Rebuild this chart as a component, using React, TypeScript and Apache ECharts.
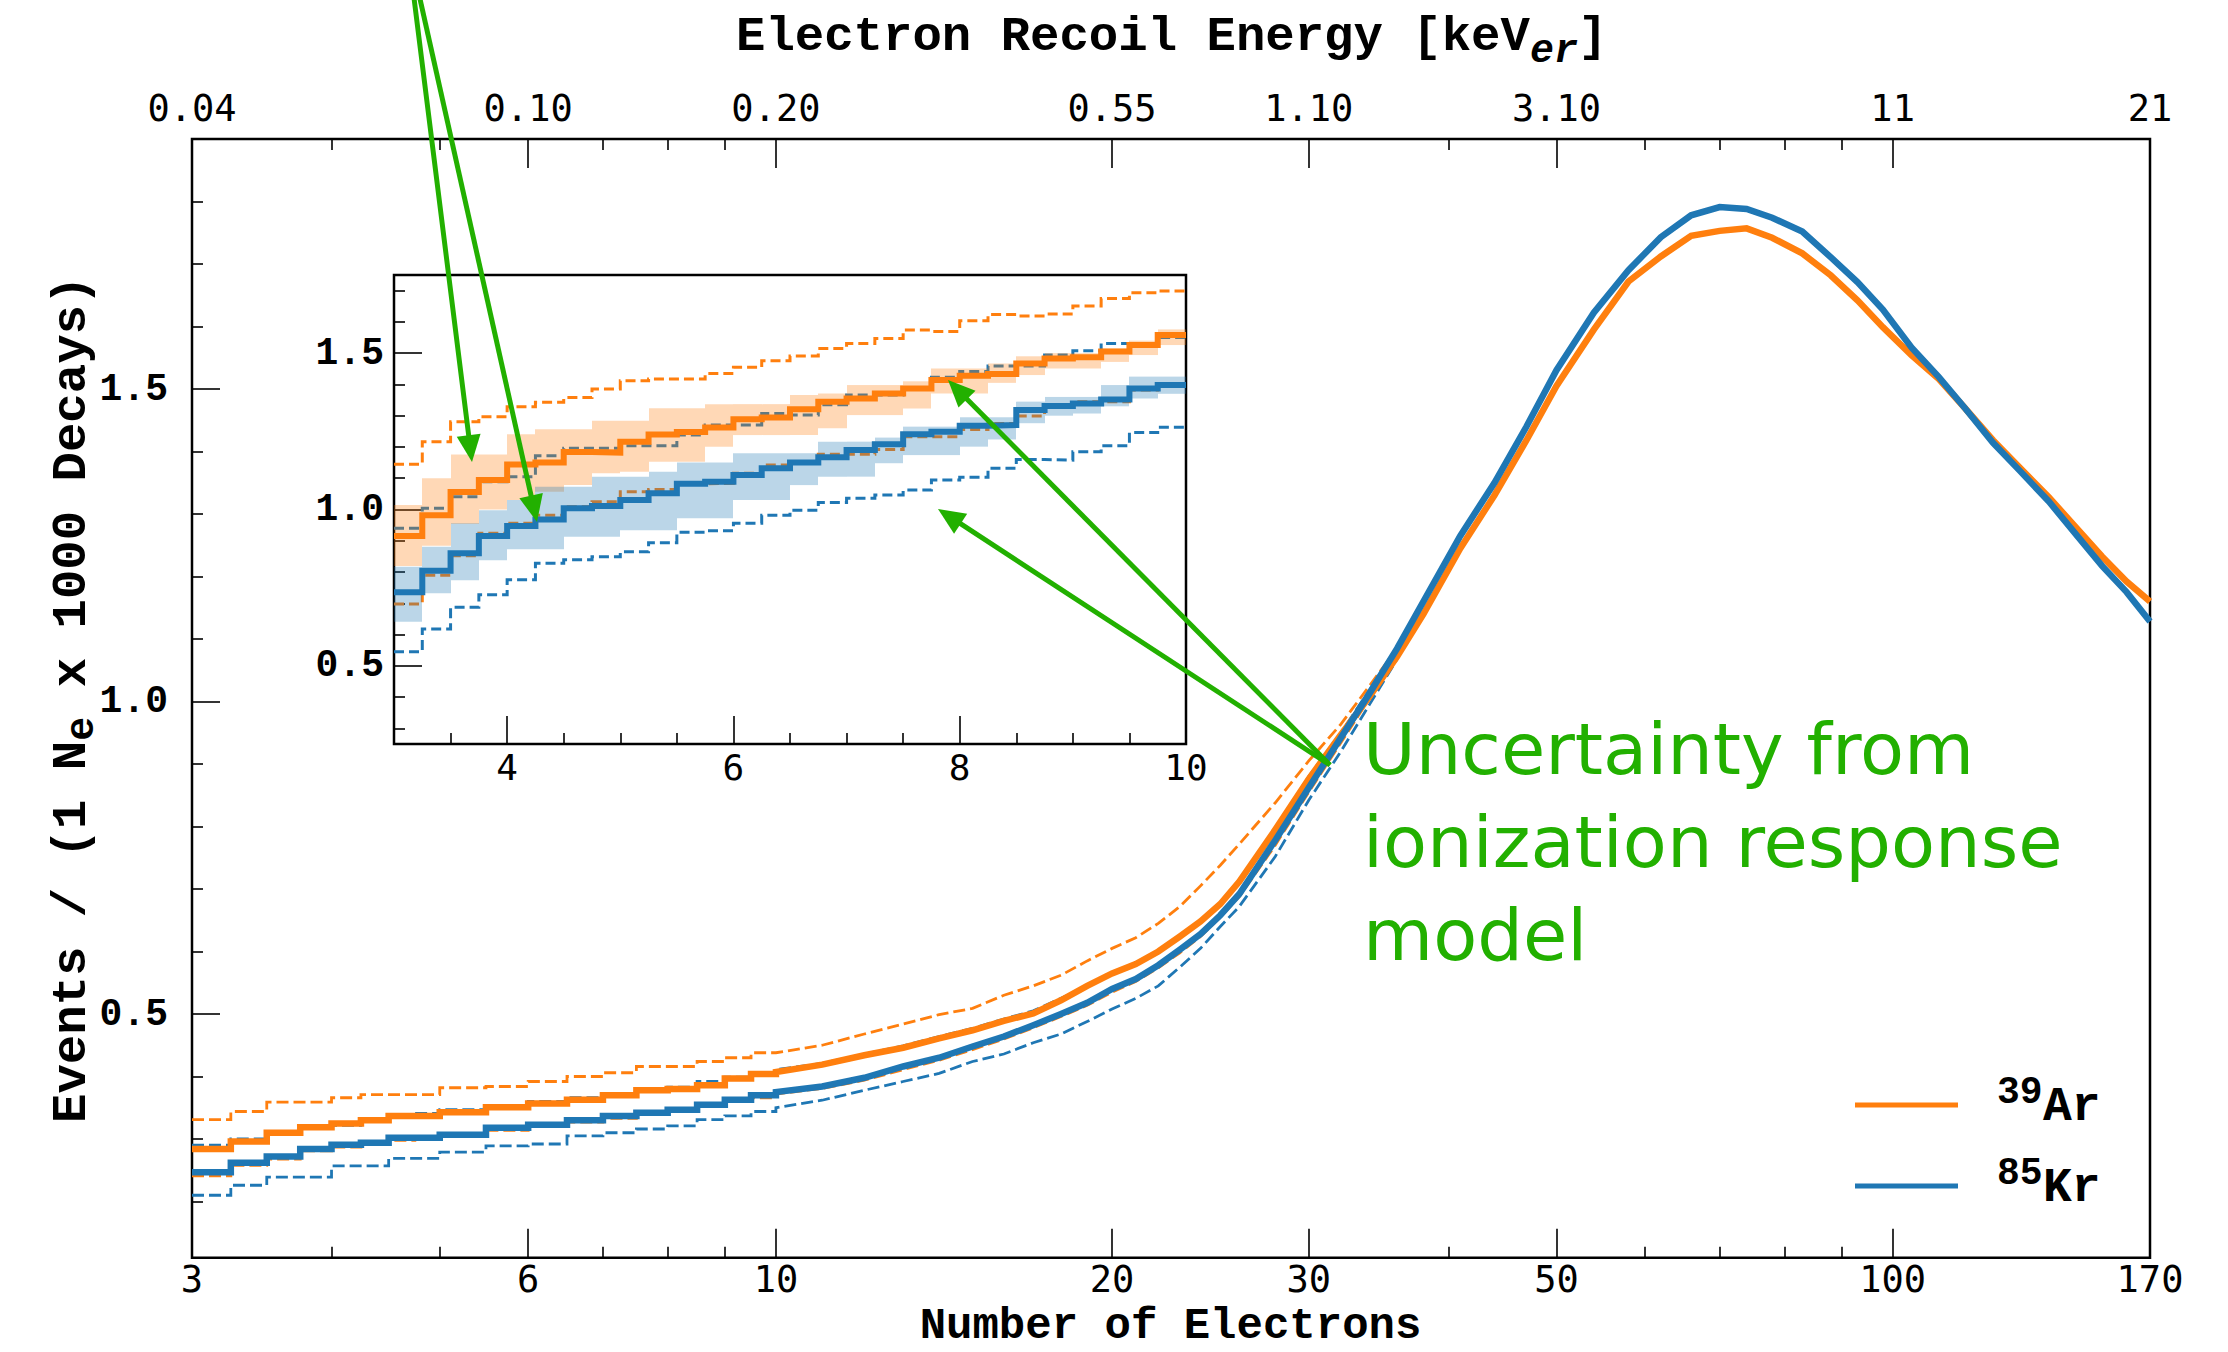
import React, { useEffect, useRef } from "react";
import * as echarts from "echarts";

const W = 2228;
const H = 1352;

// ================= Axis ticks =================
const mainMajorNe = [3, 6, 10, 20, 30, 50, 100, 170];
const mainMinorNe = [4, 5, 7, 8, 9, 40, 60, 70, 80, 90];
const bottomTickLabels = ["3", "6", "10", "20", "30", "50", "100", "170"];
const topTickLabels = ["0.04", "0.10", "0.20", "0.55", "1.10", "3.10", "11", "21"];
const mainYMajor = [0.5, 1.0, 1.5];
const mainYMinor = [0.2, 0.3, 0.4, 0.6, 0.7, 0.8, 0.9, 1.1, 1.2, 1.3, 1.4, 1.6, 1.7, 1.8];
const insetXMajor = [4, 6, 8, 10];
const insetXMinor = [3.5, 4.5, 5, 5.5, 6.5, 7, 7.5, 8.5, 9, 9.5];
const insetYMajor = [0.5, 1.0, 1.5];
const insetYMinor = [0.3, 0.4, 0.6, 0.7, 0.8, 0.9, 1.1, 1.2, 1.3, 1.4, 1.6, 1.7];

// ================= Main plot data =================
// low-Ne histogram bins (bin edges, number of electrons)
const mainBinEdges = [3, 3.25, 3.5, 3.75, 4, 4.25, 4.5, 4.75, 5, 5.5, 6, 6.5, 7, 7.5, 8, 8.5, 9, 9.5, 10];
const ar39MainSteps = [0.284, 0.296, 0.310, 0.319, 0.325, 0.330, 0.337, 0.337, 0.343, 0.351, 0.357, 0.363, 0.370, 0.378, 0.380, 0.386, 0.397, 0.404];
const kr85MainSteps = [0.247, 0.262, 0.272, 0.284, 0.291, 0.294, 0.302, 0.302, 0.307, 0.318, 0.323, 0.330, 0.337, 0.342, 0.347, 0.355, 0.363, 0.370];
const ar39UpMainSteps = [0.331, 0.344, 0.359, 0.359, 0.366, 0.371, 0.371, 0.371, 0.382, 0.384, 0.392, 0.400, 0.406, 0.416, 0.416, 0.424, 0.430, 0.438];
const ar39LoMainSteps = [0.241, 0.258, 0.268, 0.281, 0.287, 0.291, 0.298, 0.300, 0.304, 0.314, 0.320, 0.327, 0.333, 0.340, 0.344, 0.352, 0.360, 0.366];
const kr85UpMainSteps = [0.290, 0.300, 0.311, 0.320, 0.322, 0.333, 0.338, 0.341, 0.347, 0.353, 0.360, 0.366, 0.372, 0.378, 0.383, 0.392, 0.399, 0.406];
const kr85LoMainSteps = [0.210, 0.226, 0.239, 0.239, 0.257, 0.257, 0.269, 0.269, 0.279, 0.289, 0.292, 0.305, 0.310, 0.316, 0.321, 0.331, 0.337, 0.344];

// higher-Ne samples
const mainNe = [10, 11, 12, 13, 14, 15, 16, 17, 18, 19, 20, 21, 22, 23, 24, 25, 26, 28, 30, 32, 34, 36, 38, 41, 44, 47, 50, 54, 58, 62, 66, 70, 74, 78, 83, 88, 93, 98, 104, 110, 116, 123, 130, 138, 146, 154, 162, 170];
const ar39Main = [0.407, 0.419, 0.434, 0.446, 0.461, 0.474, 0.489, 0.501, 0.522, 0.545, 0.565, 0.580, 0.600, 0.624, 0.648, 0.676, 0.712, 0.795, 0.876, 0.945, 1.008, 1.072, 1.140, 1.245, 1.330, 1.418, 1.505, 1.595, 1.672, 1.712, 1.745, 1.753, 1.757, 1.742, 1.717, 1.682, 1.642, 1.599, 1.554, 1.516, 1.470, 1.418, 1.374, 1.327, 1.278, 1.232, 1.192, 1.160];
const kr85Main = [0.375, 0.384, 0.398, 0.416, 0.430, 0.448, 0.464, 0.482, 0.500, 0.518, 0.540, 0.556, 0.578, 0.603, 0.628, 0.658, 0.692, 0.778, 0.862, 0.940, 1.013, 1.085, 1.160, 1.265, 1.350, 1.440, 1.530, 1.622, 1.690, 1.743, 1.778, 1.791, 1.788, 1.774, 1.752, 1.711, 1.671, 1.627, 1.566, 1.519, 1.470, 1.414, 1.369, 1.320, 1.267, 1.217, 1.175, 1.128];
const mainDashNe = [10, 11, 12, 13, 14, 15, 16, 17, 18, 19, 20, 21, 22, 23, 24, 25, 26, 28, 30, 32, 34, 36];
const ar39UpMain = [0.438, 0.450, 0.468, 0.484, 0.499, 0.509, 0.530, 0.545, 0.562, 0.585, 0.605, 0.622, 0.645, 0.672, 0.705, 0.738, 0.772, 0.838, 0.905, 0.962, 1.025, 1.085];
const ar39LoMain = [0.372, 0.381, 0.394, 0.411, 0.426, 0.443, 0.460, 0.478, 0.496, 0.514, 0.535, 0.552, 0.574, 0.598, 0.624, 0.655, 0.688, 0.770, 0.855, 0.932, 1.005, 1.075];
const kr85UpMain = [0.411, 0.421, 0.436, 0.449, 0.464, 0.477, 0.492, 0.505, 0.525, 0.544, 0.566, 0.582, 0.600, 0.625, 0.650, 0.678, 0.712, 0.795, 0.880, 0.948, 1.018, 1.088];
const kr85LoMain = [0.350, 0.362, 0.378, 0.392, 0.405, 0.424, 0.436, 0.454, 0.468, 0.488, 0.508, 0.525, 0.545, 0.575, 0.605, 0.640, 0.672, 0.752, 0.842, 0.918, 0.995, 1.068];

// ================= Inset data (bins of 0.25 electrons) =================
const insetBinEdges = [3, 3.25, 3.5, 3.75, 4, 4.25, 4.5, 4.75, 5, 5.25, 5.5, 5.75, 6, 6.25, 6.5, 6.75, 7, 7.25, 7.5, 7.75, 8, 8.25, 8.5, 8.75, 9, 9.25, 9.5, 9.75, 10];
const ar39Inset = [0.915, 0.982, 1.056, 1.094, 1.144, 1.150, 1.184, 1.182, 1.217, 1.240, 1.248, 1.262, 1.289, 1.294, 1.321, 1.345, 1.355, 1.371, 1.387, 1.414, 1.428, 1.433, 1.467, 1.483, 1.487, 1.505, 1.526, 1.558];
const ar39BandHi = [1.014, 1.100, 1.176, 1.176, 1.241, 1.257, 1.257, 1.284, 1.284, 1.324, 1.324, 1.337, 1.337, 1.337, 1.366, 1.371, 1.398, 1.398, 1.410, 1.451, 1.451, 1.467, 1.490, 1.500, 1.500, 1.515, 1.540, 1.576];
const ar39BandLo = [0.819, 0.884, 0.954, 1.000, 1.030, 1.057, 1.078, 1.116, 1.121, 1.153, 1.153, 1.201, 1.238, 1.238, 1.238, 1.260, 1.302, 1.302, 1.323, 1.371, 1.371, 1.405, 1.430, 1.451, 1.451, 1.472, 1.494, 1.526];
const kr85Inset = [0.735, 0.804, 0.860, 0.915, 0.947, 0.968, 1.004, 1.011, 1.030, 1.052, 1.082, 1.089, 1.110, 1.132, 1.150, 1.167, 1.190, 1.209, 1.241, 1.249, 1.268, 1.270, 1.318, 1.331, 1.339, 1.352, 1.387, 1.398];
const kr85BandHi = [0.817, 0.881, 0.956, 0.998, 1.030, 1.073, 1.073, 1.105, 1.105, 1.121, 1.150, 1.150, 1.180, 1.180, 1.180, 1.217, 1.217, 1.230, 1.265, 1.265, 1.295, 1.295, 1.345, 1.360, 1.360, 1.398, 1.425, 1.425];
const kr85BandLo = [0.641, 0.732, 0.774, 0.838, 0.873, 0.873, 0.913, 0.913, 0.934, 0.934, 0.972, 0.972, 1.030, 1.030, 1.078, 1.105, 1.105, 1.148, 1.174, 1.174, 1.201, 1.224, 1.276, 1.300, 1.307, 1.330, 1.355, 1.370];
const ar39UpInset = [1.145, 1.217, 1.281, 1.297, 1.329, 1.343, 1.358, 1.385, 1.412, 1.417, 1.417, 1.435, 1.455, 1.476, 1.491, 1.515, 1.531, 1.547, 1.574, 1.569, 1.604, 1.624, 1.619, 1.625, 1.651, 1.675, 1.693, 1.699];
const ar39LoInset = [0.698, 0.790, 0.852, 0.924, 0.956, 0.982, 1.009, 1.025, 1.057, 1.064, 1.082, 1.084, 1.116, 1.142, 1.148, 1.177, 1.177, 1.192, 1.233, 1.233, 1.256, 1.275, 1.299, 1.329, 1.345, 1.345, 1.382, 1.393];
const kr85UpInset = [0.940, 1.004, 1.041, 1.089, 1.105, 1.172, 1.196, 1.196, 1.204, 1.204, 1.238, 1.270, 1.270, 1.307, 1.302, 1.335, 1.366, 1.366, 1.385, 1.423, 1.441, 1.459, 1.459, 1.494, 1.508, 1.531, 1.531, 1.550];
const kr85LoInset = [0.545, 0.618, 0.687, 0.727, 0.775, 0.828, 0.839, 0.849, 0.865, 0.894, 0.927, 0.932, 0.956, 0.982, 0.998, 1.022, 1.036, 1.046, 1.062, 1.094, 1.103, 1.132, 1.160, 1.158, 1.185, 1.204, 1.246, 1.263];

// ================= Styling =================
const ORANGE = "#ff7f0e";
const BLUE = "#1f77b4";
const GREEN = "#22b000";
const MONO = "Liberation Mono";
const TICKFONT = "DejaVu Sans Mono";

const LOG = (n: number) => Math.log10(n);

function mainCurve(steps: number[], ne: number[], vals: number[]) {
  const pts: number[][] = [];
  steps.forEach((v, i) => {
    pts.push([LOG(mainBinEdges[i]), v]);
    pts.push([LOG(mainBinEdges[i + 1]), v]);
  });
  ne.forEach((n, i) => pts.push([LOG(n), vals[i]]));
  return pts;
}

function stepCurve(vals: number[]) {
  const pts: number[][] = [];
  vals.forEach((v, i) => {
    pts.push([insetBinEdges[i], v]);
    pts.push([insetBinEdges[i + 1], v]);
  });
  return pts;
}

function nearestLabel(values: number[], labels: string[]) {
  return (v: number) => {
    let best = 0;
    values.forEach((x, i) => {
      if (Math.abs(x - v) < Math.abs(values[best] - v)) best = i;
    });
    return labels[best];
  };
}

const tickLine = { color: "#000", width: 1.6 };

function axis(gridIndex: number, position: string, min: number, max: number, ticks: number[], len: number, label: any) {
  return {
    type: "value",
    gridIndex,
    position,
    min,
    max,
    axisLine: { show: false },
    splitLine: { show: false },
    axisTick: { show: true, inside: true, length: len, customValues: ticks, lineStyle: tickLine },
    axisLabel: label
      ? { show: true, customValues: ticks, color: "#000", ...label }
      : { show: false },
  };
}

function line(data: number[][], color: string, width: number, dash: number[] | null, xi: number, yi: number, z: number) {
  return {
    type: "line",
    data,
    xAxisIndex: xi,
    yAxisIndex: yi,
    showSymbol: false,
    symbol: "none",
    silent: true,
    z,
    lineStyle: { color, width, type: dash ? dash : "solid", cap: "butt", join: "miter" },
  };
}

function band(lo: number[], hi: number[], color: string, z: number) {
  return {
    type: "custom",
    xAxisIndex: 4,
    yAxisIndex: 2,
    z,
    silent: true,
    data: lo.map((l, i) => [insetBinEdges[i], insetBinEdges[i + 1], l, hi[i]]),
    encode: { x: [0, 1], y: [2, 3] },
    renderItem: (params: any, api: any) => {
      const a = api.coord([api.value(0), api.value(3)]);
      const b = api.coord([api.value(1), api.value(2)]);
      const x0 = Math.round(a[0]);
      const x1 = Math.round(b[0]);
      return {
        type: "rect",
        shape: { x: x0, y: a[1], width: x1 - x0, height: b[1] - a[1] },
        style: { fill: color },
      };
    },
  };
}

function arrow(x1: number, y1: number, x2: number, y2: number) {
  const dx = x2 - x1;
  const dy = y2 - y1;
  const len = Math.sqrt(dx * dx + dy * dy);
  const ux = dx / len;
  const uy = dy / len;
  const hl = 27;
  const hw = 12;
  const bx = x2 - ux * hl;
  const by = y2 - uy * hl;
  return [
    { type: "line", z: 100, silent: true, shape: { x1, y1, x2: bx + ux * 2, y2: by + uy * 2 }, style: { stroke: GREEN, lineWidth: 5 } },
    {
      type: "polygon",
      z: 100,
      silent: true,
      shape: { points: [[x2, y2], [bx - uy * hw, by + ux * hw], [bx + uy * hw, by - ux * hw]] },
      style: { fill: GREEN },
    },
  ];
}

function text(t: string, x: number, y: number, font: string, fill = "#000", rotation = 0) {
  return {
    type: "text",
    x,
    y,
    rotation,
    z: 100,
    silent: true,
    style: { text: t, font, fill, align: "left", verticalAlign: "middle", textAlign: "left", textVerticalAlign: "middle" },
  };
}

function buildOption() {
  const majorLog = mainMajorNe.map(LOG);
  const minorLog = mainMinorNe.map(LOG);
  const xLabel = { fontFamily: TICKFONT, fontSize: 37 };
  const yLabel = { fontFamily: MONO, fontWeight: "bold", fontSize: 38 };

  const xAxis = [
    axis(0, "bottom", LOG(3), LOG(170), majorLog, 29, { ...xLabel, margin: 3, formatter: nearestLabel(majorLog, bottomTickLabels) }),
    axis(0, "bottom", LOG(3), LOG(170), minorLog, 11, null),
    axis(0, "top", LOG(3), LOG(170), majorLog, 29, { ...xLabel, margin: 12, formatter: nearestLabel(majorLog, topTickLabels) }),
    axis(0, "top", LOG(3), LOG(170), minorLog, 11, null),
    axis(1, "bottom", 3, 10, insetXMajor, 28, { ...xLabel, fontSize: 36, margin: 5, formatter: (v: number) => String(Math.round(v)) }),
    axis(1, "bottom", 3, 10, insetXMinor, 11, null),
  ];
  const yAxis = [
    axis(0, "left", 0.11, 1.9, mainYMajor, 28, { ...yLabel, margin: 24, formatter: (v: number) => v.toFixed(1) }),
    axis(0, "left", 0.11, 1.9, mainYMinor, 11, null),
    axis(1, "left", 0.25, 1.75, insetYMajor, 28, { ...yLabel, margin: 10, formatter: (v: number) => v.toFixed(1) }),
    axis(1, "left", 0.25, 1.75, insetYMinor, 11, null),
  ];

  const MD = [12, 5];
  const ID = [10, 5];
  const series: any[] = [
    // main plot
    line(mainCurve(ar39UpMainSteps, mainDashNe, ar39UpMain), ORANGE, 2.8, MD, 0, 0, 3),
    line(mainCurve(ar39LoMainSteps, mainDashNe, ar39LoMain), ORANGE, 2.8, MD, 0, 0, 3),
    line(mainCurve(kr85UpMainSteps, mainDashNe, kr85UpMain), BLUE, 2.8, MD, 0, 0, 3),
    line(mainCurve(kr85LoMainSteps, mainDashNe, kr85LoMain), BLUE, 2.8, MD, 0, 0, 3),
    line(mainCurve(ar39MainSteps, mainNe, ar39Main), ORANGE, 6.5, null, 0, 0, 5),
    line(mainCurve(kr85MainSteps, mainNe, kr85Main), BLUE, 6.5, null, 0, 0, 6),
    // inset
    line(stepCurve(ar39UpInset), ORANGE, 3, ID, 4, 2, 3),
    line(stepCurve(ar39LoInset), ORANGE, 3, ID, 4, 2, 3),
    line(stepCurve(kr85UpInset), BLUE, 3, ID, 4, 2, 3),
    line(stepCurve(kr85LoInset), BLUE, 3, ID, 4, 2, 3),
    band(ar39BandLo, ar39BandHi, "rgba(255,127,14,0.3)", 4),
    band(kr85BandLo, kr85BandHi, "rgba(31,119,180,0.3)", 4),
    line(stepCurve(ar39Inset), ORANGE, 6, null, 4, 2, 5),
    line(stepCurve(kr85Inset), BLUE, 6, null, 4, 2, 5),
  ];

  const fs = 49;
  const cw = 0.6001;
  const subFs = 40;
  const titleFont = `bold ${fs}px "${MONO}"`;
  const subFont = `italic bold ${subFs}px "${MONO}"`;
  const subUpFont = `bold ${subFs}px "${MONO}"`;
  const topStart = 736;
  const topMain = "Electron Recoil Energy [keV";
  const erX = topStart + topMain.length * fs * cw;
  const brX = erX + 2 * subFs * cw;

  const yStart = 1123;
  const yPart1 = "Events / (1 N";
  const ePos = yStart - yPart1.length * fs * cw;
  const yPart3Pos = ePos - subFs * cw;

  const xTitle = "Number of Electrons";
  const xTitleFs = 44;
  const xTitleX = 1170.5 - (xTitle.length * xTitleFs * cw) / 2;

  const graphic: any[] = [
    // titles
    text(topMain, topStart, 37, titleFont),
    text("er", erX, 51, subFont),
    text("]", brX, 37, titleFont),
    text(xTitle, xTitleX, 1326, `bold ${xTitleFs}px "${MONO}"`),
    text(yPart1, 72, yStart, titleFont, "#000", Math.PI / 2),
    text("e", 82, ePos, subUpFont, "#000", Math.PI / 2),
    text(" x 1000 Decays)", 72, yPart3Pos, titleFont, "#000", Math.PI / 2),
    // legend
    { type: "line", z: 100, silent: true, shape: { x1: 1855, y1: 1105, x2: 1958, y2: 1105 }, style: { stroke: ORANGE, lineWidth: 5 } },
    { type: "line", z: 100, silent: true, shape: { x1: 1855, y1: 1186, x2: 1958, y2: 1186 }, style: { stroke: BLUE, lineWidth: 5 } },
    text("39", 1997, 1092, `bold 38px "${MONO}"`),
    text("Ar", 2043, 1107, `bold 48px "${MONO}"`),
    text("85", 1997, 1173, `bold 38px "${MONO}"`),
    text("Kr", 2043, 1188, `bold 48px "${MONO}"`),
    // annotation
    ...arrow(413, -10, 472, 462),
    ...arrow(418, -10, 537, 522),
    ...arrow(1330, 765, 948, 380),
    ...arrow(1330, 765, 938, 509),
    text("Uncertainty from", 1363, 749, `72px "DejaVu Sans"`, GREEN),
    text("ionization response", 1363, 842, `72px "DejaVu Sans"`, GREEN),
    text("model", 1363, 935, `72px "DejaVu Sans"`, GREEN),
  ];

  return {
    animation: false,
    backgroundColor: "#fff",
    textStyle: { fontFamily: TICKFONT },
    grid: [
      { left: 192, top: 139, width: 1958, height: 1118.75, show: true, borderColor: "#000", borderWidth: 2.5, backgroundColor: "transparent", containLabel: false, outerBoundsMode: "none" },
      { left: 394, top: 275, width: 792, height: 469, show: true, borderColor: "#000", borderWidth: 2.5, backgroundColor: "#fff", containLabel: false, outerBoundsMode: "none" },
    ],
    xAxis,
    yAxis,
    series,
    graphic,
  };
}

export default function App() {
  const ref = useRef<HTMLDivElement>(null);
  useEffect(() => {
    if (!ref.current) return;
    const chart = echarts.init(ref.current, null, { renderer: "svg" });
    chart.setOption(buildOption() as any);
    return () => chart.dispose();
  }, []);
  return (
    <div
      ref={ref}
      style={{ position: "absolute", left: 0, top: 0, width: W, height: H, background: "#fff" }}
    />
  );
}
